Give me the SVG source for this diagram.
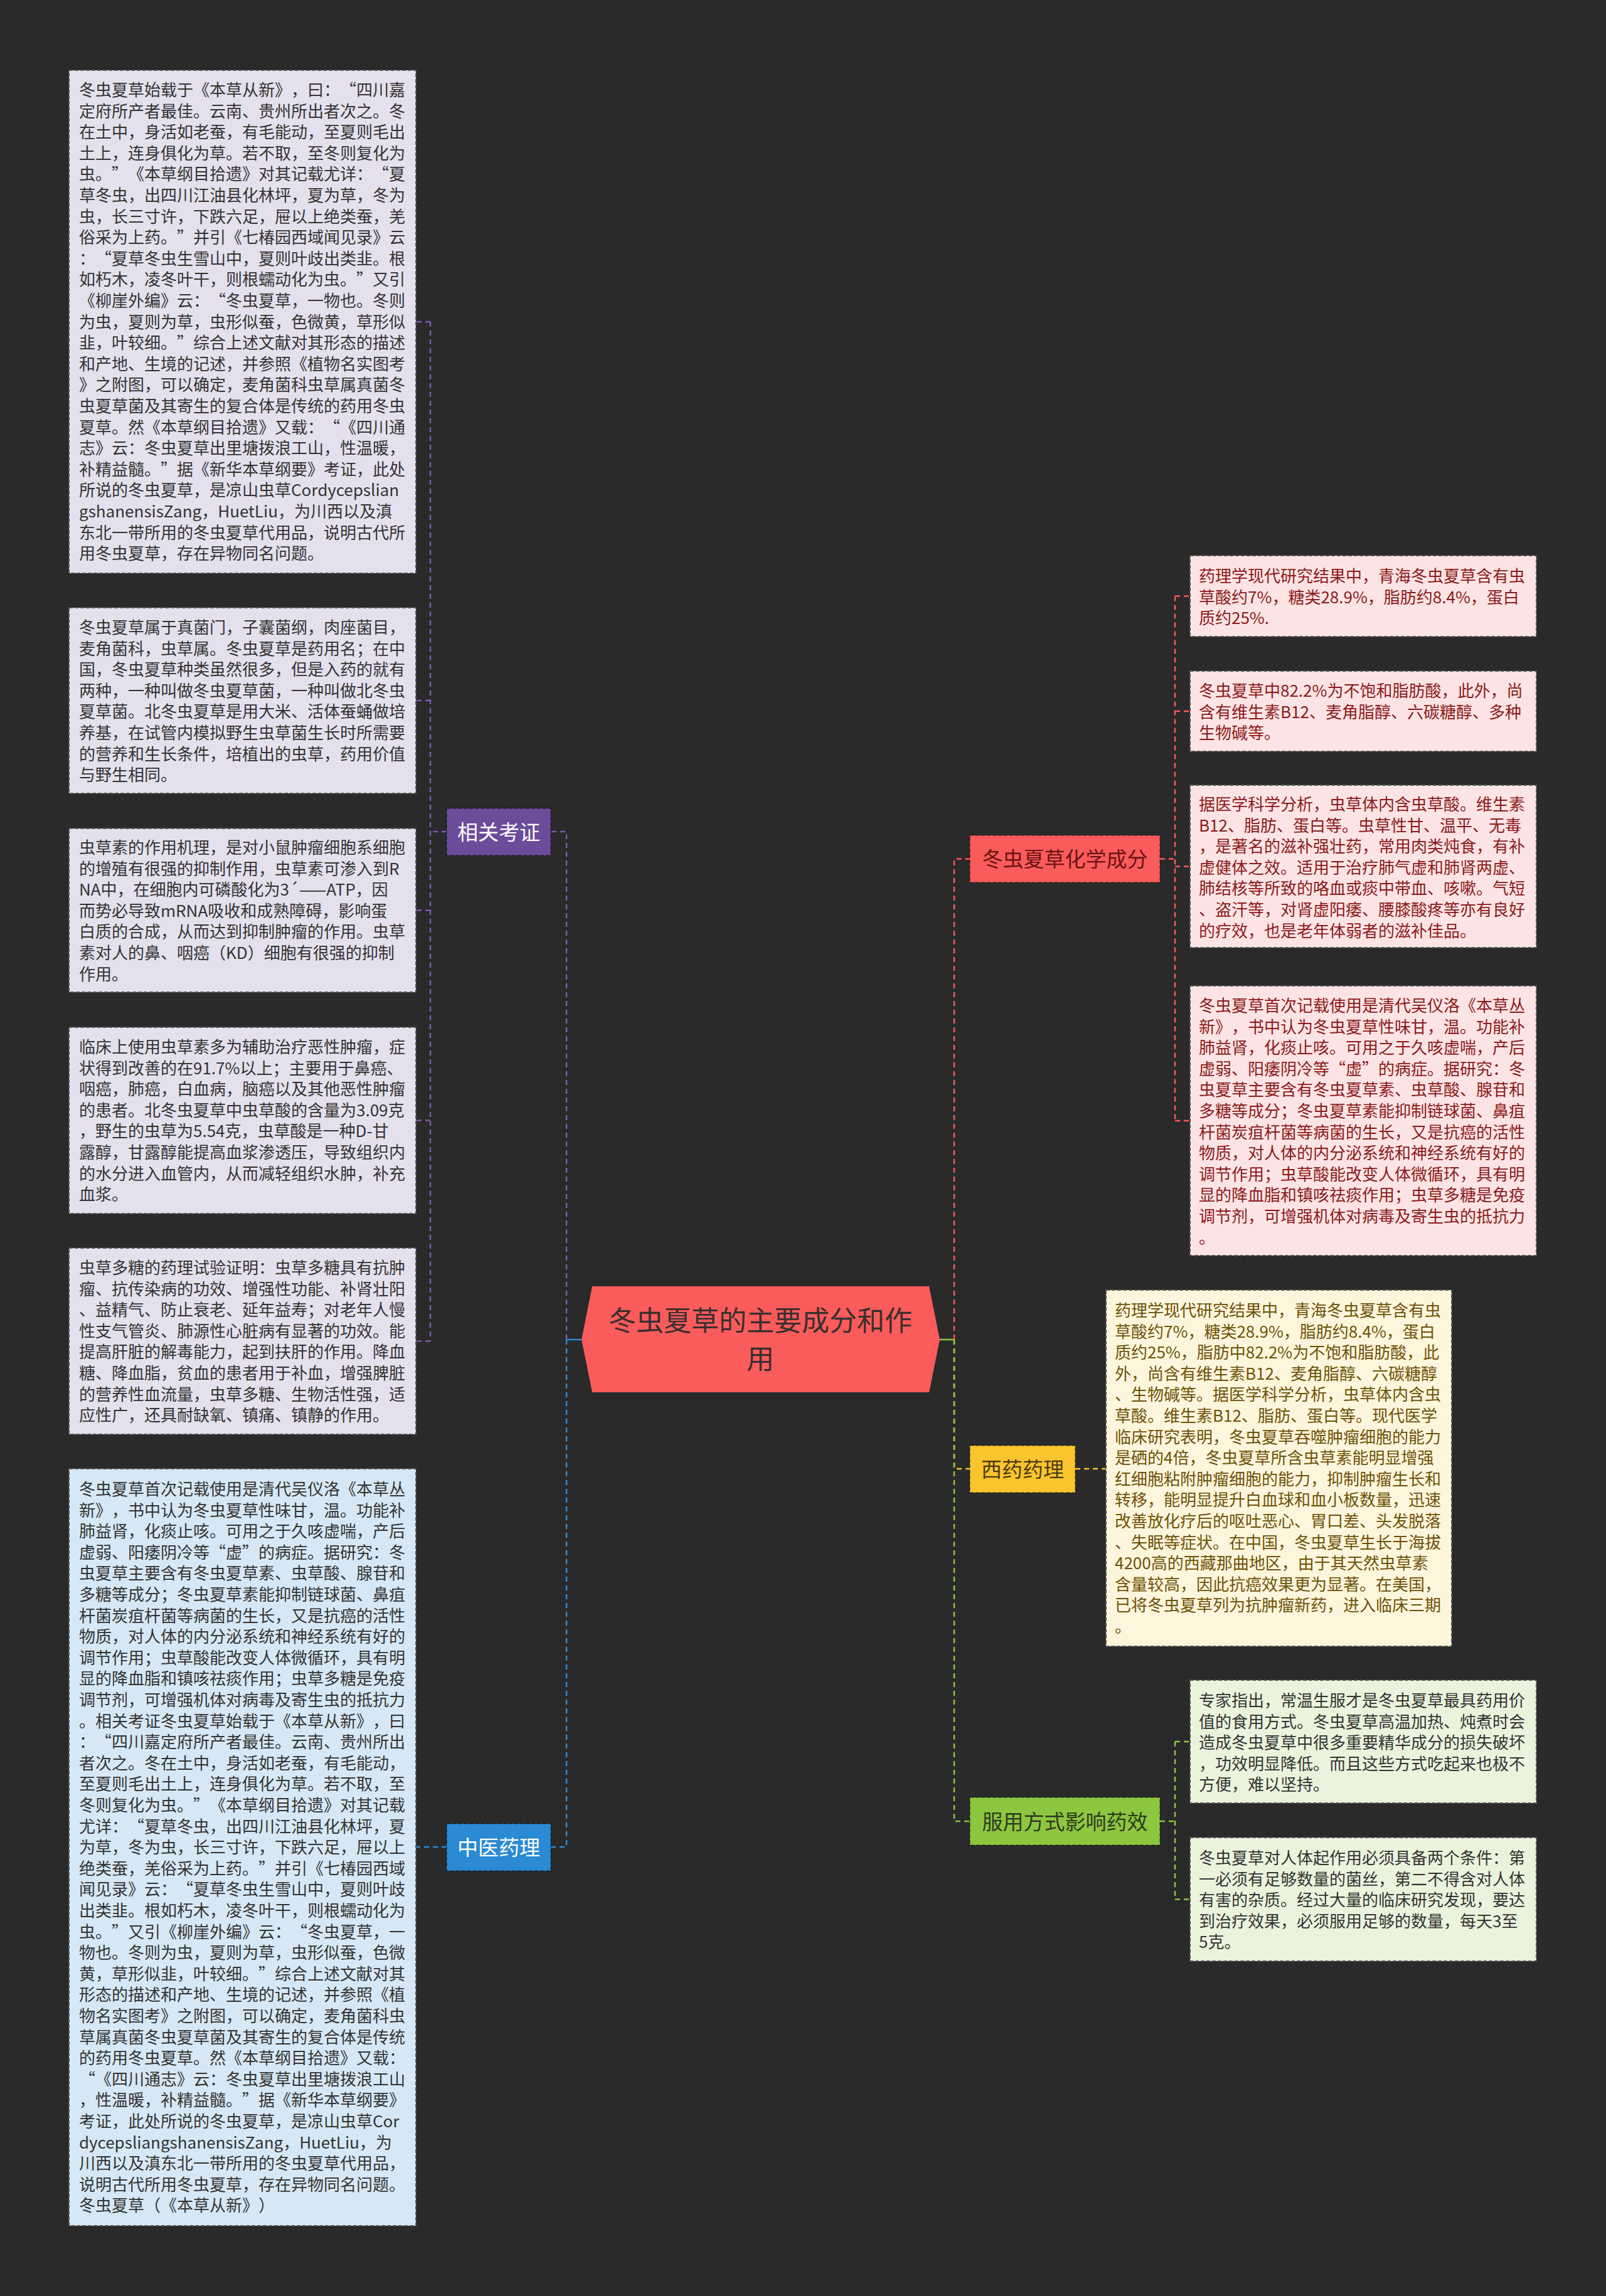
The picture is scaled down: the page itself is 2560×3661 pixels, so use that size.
<svg xmlns="http://www.w3.org/2000/svg" width="2560" height="3661" viewBox="0 0 2560 3661">
<style>
text{font-family:"Noto Sans CJK SC","Noto Sans",sans-serif;text-spacing-trim:space-all;}
.t{font-size:26px;}
.box{stroke:#555;stroke-width:2;stroke-dasharray:6 3;}
.lav{fill:#e4e0ee;}
.blu{fill:#d6e8f5;}
.pnk{fill:#fde4e4;}
.crm{fill:#fdf5dc;}
.grn{fill:#eaf3dc;}
.dk{fill:#333333;}
.rd{fill:#8b1a1a;}
.ol{fill:#6e5208;}
.lbl{stroke:rgba(0,0,0,0.35);stroke-width:2;stroke-dasharray:6 3;}
.lt{font-size:33px;text-anchor:middle;}
.c{fill:none;stroke-width:2.5;stroke-dasharray:8 6;}
.s{fill:none;stroke-width:2.5;}
</style>
<rect x="0" y="0" width="2560" height="3661" fill="#2a2a2a"/>

<g id="connectors">
<path class="s" stroke="#2a8ad4" d="M927,2136 H903"/>
<path class="s" stroke="#8dc63f" d="M1498,2136 H1521"/>
<path class="c" stroke="#7a5aa8" d="M903,2136 V1326 H878 M712,1326 H686 M686,513 V2138.5 M686,513 H663 M686,1117 H663 M686,1451.5 H663 M686,1786.5 H663 M686,2138.5 H663"/>
<path class="c" stroke="#2a8ad4" d="M903,2136 V2945 H878 M712,2945 H663"/>
<path class="c" stroke="#f95a5a" d="M1521,2136 V1369.5 H1546 M1849,1369.5 H1873 M1873,950.5 V1787 M1873,950.5 H1897 M1873,1134 H1897 M1873,1381.5 H1897 M1873,1787 H1897"/>
<path class="c" stroke="#f9c42e" d="M1521,2136 V2342 H1546 M1714,2342 H1763"/>
<path class="c" stroke="#8dc63f" d="M1521,2136 V2904 H1546 M1849,2904 H1873 M1873,2777 V3028.5 M1873,2777 H1897 M1873,3028.5 H1897"/>
</g>

<g id="center">
<polygon points="944,2051 1481,2051 1498,2136 1481,2220 944,2220 927,2136" fill="#fa5b5b"/>
<text x="1212" y="2122" font-size="44" text-anchor="middle" fill="#3a2f2f">冬虫夏草的主要成分和作</text>
<text x="1212" y="2183" font-size="44" text-anchor="middle" fill="#3a2f2f">用</text>
</g>

<g id="label-xgkz">
<rect class="lbl" x="712" y="1289" width="166" height="75" fill="#6b4c9a"/>
<text class="lt" x="795" y="1338.5" fill="#ffffff">相关考证</text>
</g>
<g id="label-zyyl">
<rect class="lbl" x="712" y="2908" width="166" height="75" fill="#2a8ad4"/>
<text class="lt" x="795" y="2957.5" fill="#ffffff">中医药理</text>
</g>
<g id="label-hxcf">
<rect class="lbl" x="1546" y="1332" width="303" height="75" fill="#fa5b5b"/>
<text class="lt" x="1697.5" y="1382" fill="#6b1414">冬虫夏草化学成分</text>
</g>
<g id="label-xyyl">
<rect class="lbl" x="1546" y="2305" width="168" height="75" fill="#f9c42e"/>
<text class="lt" x="1630" y="2354.5" fill="#4a3a10">西药药理</text>
</g>
<g id="label-fyfs">
<rect class="lbl" x="1546" y="2866" width="303" height="76" fill="#8dc63f"/>
<text class="lt" x="1697.5" y="2916.5" fill="#2e3a1e">服用方式影响药效</text>
</g>

<g id="box-l1">
<rect class="box lav" x="110" y="112" width="553" height="802"/>
<text class="t dk" x="126" y="153">
<tspan x="126">冬虫夏草始载于《本草从新》，曰：“四川嘉</tspan>
<tspan x="126" dy="33.6">定府所产者最佳。云南、贵州所出者次之。冬</tspan>
<tspan x="126" dy="33.6">在土中，身活如老蚕，有毛能动，至夏则毛出</tspan>
<tspan x="126" dy="33.6">土上，连身俱化为草。若不取，至冬则复化为</tspan>
<tspan x="126" dy="33.6">虫。”《本草纲目拾遗》对其记载尤详：“夏</tspan>
<tspan x="126" dy="33.6">草冬虫，出四川江油县化林坪，夏为草，冬为</tspan>
<tspan x="126" dy="33.6">虫，长三寸许，下跌六足，屉以上绝类蚕，羌</tspan>
<tspan x="126" dy="33.6">俗采为上药。”并引《七椿园西域闻见录》云</tspan>
<tspan x="126" dy="33.6">：“夏草冬虫生雪山中，夏则叶歧出类韭。根</tspan>
<tspan x="126" dy="33.6">如朽木，凌冬叶干，则根蠕动化为虫。”又引</tspan>
<tspan x="126" dy="33.6">《柳崖外编》云：“冬虫夏草，一物也。冬则</tspan>
<tspan x="126" dy="33.6">为虫，夏则为草，虫形似蚕，色微黄，草形似</tspan>
<tspan x="126" dy="33.6">韭，叶较细。”综合上述文献对其形态的描述</tspan>
<tspan x="126" dy="33.6">和产地、生境的记述，并参照《植物名实图考</tspan>
<tspan x="126" dy="33.6">》之附图，可以确定，麦角菌科虫草属真菌冬</tspan>
<tspan x="126" dy="33.6">虫夏草菌及其寄生的复合体是传统的药用冬虫</tspan>
<tspan x="126" dy="33.6">夏草。然《本草纲目拾遗》又载：“《四川通</tspan>
<tspan x="126" dy="33.6">志》云：冬虫夏草出里塘拨浪工山，性温暖，</tspan>
<tspan x="126" dy="33.6">补精益髓。”据《新华本草纲要》考证，此处</tspan>
<tspan x="126" dy="33.6">所说的冬虫夏草，是凉山虫草Cordycepslian</tspan>
<tspan x="126" dy="33.6">gshanensisZang，HuetLiu，为川西以及滇</tspan>
<tspan x="126" dy="33.6">东北一带所用的冬虫夏草代用品，说明古代所</tspan>
<tspan x="126" dy="33.6">用冬虫夏草，存在异物同名问题。</tspan>
</text>
</g>

<g id="box-l2">
<rect class="box lav" x="110" y="969" width="553" height="296"/>
<text class="t dk" x="126" y="1010">
<tspan x="126">冬虫夏草属于真菌门，子囊菌纲，肉座菌目，</tspan>
<tspan x="126" dy="33.6">麦角菌科，虫草属。冬虫夏草是药用名；在中</tspan>
<tspan x="126" dy="33.6">国，冬虫夏草种类虽然很多，但是入药的就有</tspan>
<tspan x="126" dy="33.6">两种，一种叫做冬虫夏草菌，一种叫做北冬虫</tspan>
<tspan x="126" dy="33.6">夏草菌。北冬虫夏草是用大米、活体蚕蛹做培</tspan>
<tspan x="126" dy="33.6">养基，在试管内模拟野生虫草菌生长时所需要</tspan>
<tspan x="126" dy="33.6">的营养和生长条件，培植出的虫草，药用价值</tspan>
<tspan x="126" dy="33.6">与野生相同。</tspan>
</text>
</g>

<g id="box-l3">
<rect class="box lav" x="110" y="1321" width="553" height="261"/>
<text class="t dk" x="126" y="1361">
<tspan x="126">虫草素的作用机理，是对小鼠肿瘤细胞系细胞</tspan>
<tspan x="126" dy="33.6">的增殖有很强的抑制作用，虫草素可渗入到R</tspan>
<tspan x="126" dy="33.6">NA中，在细胞内可磷酸化为3´——ATP，因</tspan>
<tspan x="126" dy="33.6">而势必导致mRNA吸收和成熟障碍，影响蛋</tspan>
<tspan x="126" dy="33.6">白质的合成，从而达到抑制肿瘤的作用。虫草</tspan>
<tspan x="126" dy="33.6">素对人的鼻、咽癌（KD）细胞有很强的抑制</tspan>
<tspan x="126" dy="33.6">作用。</tspan>
</text>
</g>

<g id="box-l4">
<rect class="box lav" x="110" y="1638" width="553" height="297"/>
<text class="t dk" x="126" y="1679">
<tspan x="126">临床上使用虫草素多为辅助治疗恶性肿瘤，症</tspan>
<tspan x="126" dy="33.6">状得到改善的在91.7%以上；主要用于鼻癌、</tspan>
<tspan x="126" dy="33.6">咽癌，肺癌，白血病，脑癌以及其他恶性肿瘤</tspan>
<tspan x="126" dy="33.6">的患者。北冬虫夏草中虫草酸的含量为3.09克</tspan>
<tspan x="126" dy="33.6">，野生的虫草为5.54克，虫草酸是一种D-甘</tspan>
<tspan x="126" dy="33.6">露醇，甘露醇能提高血浆渗透压，导致组织内</tspan>
<tspan x="126" dy="33.6">的水分进入血管内，从而减轻组织水肿，补充</tspan>
<tspan x="126" dy="33.6">血浆。</tspan>
</text>
</g>

<g id="box-l5">
<rect class="box lav" x="110" y="1990" width="553" height="297"/>
<text class="t dk" x="126" y="2031">
<tspan x="126">虫草多糖的药理试验证明：虫草多糖具有抗肿</tspan>
<tspan x="126" dy="33.6">瘤、抗传染病的功效、增强性功能、补肾壮阳</tspan>
<tspan x="126" dy="33.6">、益精气、防止衰老、延年益寿；对老年人慢</tspan>
<tspan x="126" dy="33.6">性支气管炎、肺源性心脏病有显著的功效。能</tspan>
<tspan x="126" dy="33.6">提高肝脏的解毒能力，起到扶肝的作用。降血</tspan>
<tspan x="126" dy="33.6">糖、降血脂，贫血的患者用于补血，增强脾脏</tspan>
<tspan x="126" dy="33.6">的营养性血流量，虫草多糖、生物活性强，适</tspan>
<tspan x="126" dy="33.6">应性广，还具耐缺氧、镇痛、镇静的作用。</tspan>
</text>
</g>

<g id="box-l6">
<rect class="box blu" x="110" y="2342" width="553" height="1207"/>
<text class="t dk" x="126" y="2384">
<tspan x="126">冬虫夏草首次记载使用是清代吴仪洛《本草丛</tspan>
<tspan x="126" dy="33.6">新》，书中认为冬虫夏草性味甘，温。功能补</tspan>
<tspan x="126" dy="33.6">肺益肾，化痰止咳。可用之于久咳虚喘，产后</tspan>
<tspan x="126" dy="33.6">虚弱、阳痿阴冷等“虚”的病症。据研究：冬</tspan>
<tspan x="126" dy="33.6">虫夏草主要含有冬虫夏草素、虫草酸、腺苷和</tspan>
<tspan x="126" dy="33.6">多糖等成分；冬虫夏草素能抑制链球菌、鼻疽</tspan>
<tspan x="126" dy="33.6">杆菌炭疽杆菌等病菌的生长，又是抗癌的活性</tspan>
<tspan x="126" dy="33.6">物质，对人体的内分泌系统和神经系统有好的</tspan>
<tspan x="126" dy="33.6">调节作用；虫草酸能改变人体微循环，具有明</tspan>
<tspan x="126" dy="33.6">显的降血脂和镇咳祛痰作用；虫草多糖是免疫</tspan>
<tspan x="126" dy="33.6">调节剂，可增强机体对病毒及寄生虫的抵抗力</tspan>
<tspan x="126" dy="33.6">。相关考证冬虫夏草始载于《本草从新》，曰</tspan>
<tspan x="126" dy="33.6">：“四川嘉定府所产者最佳。云南、贵州所出</tspan>
<tspan x="126" dy="33.6">者次之。冬在土中，身活如老蚕，有毛能动，</tspan>
<tspan x="126" dy="33.6">至夏则毛出土上，连身俱化为草。若不取，至</tspan>
<tspan x="126" dy="33.6">冬则复化为虫。”《本草纲目拾遗》对其记载</tspan>
<tspan x="126" dy="33.6">尤详：“夏草冬虫，出四川江油县化林坪，夏</tspan>
<tspan x="126" dy="33.6">为草，冬为虫，长三寸许，下跌六足，屉以上</tspan>
<tspan x="126" dy="33.6">绝类蚕，羌俗采为上药。”并引《七椿园西域</tspan>
<tspan x="126" dy="33.6">闻见录》云：“夏草冬虫生雪山中，夏则叶歧</tspan>
<tspan x="126" dy="33.6">出类韭。根如朽木，凌冬叶干，则根蠕动化为</tspan>
<tspan x="126" dy="33.6">虫。”又引《柳崖外编》云：“冬虫夏草，一</tspan>
<tspan x="126" dy="33.6">物也。冬则为虫，夏则为草，虫形似蚕，色微</tspan>
<tspan x="126" dy="33.6">黄，草形似韭，叶较细。”综合上述文献对其</tspan>
<tspan x="126" dy="33.6">形态的描述和产地、生境的记述，并参照《植</tspan>
<tspan x="126" dy="33.6">物名实图考》之附图，可以确定，麦角菌科虫</tspan>
<tspan x="126" dy="33.6">草属真菌冬虫夏草菌及其寄生的复合体是传统</tspan>
<tspan x="126" dy="33.6">的药用冬虫夏草。然《本草纲目拾遗》又载：</tspan>
<tspan x="126" dy="33.6">“《四川通志》云：冬虫夏草出里塘拨浪工山</tspan>
<tspan x="126" dy="33.6">，性温暖，补精益髓。”据《新华本草纲要》</tspan>
<tspan x="126" dy="33.6">考证，此处所说的冬虫夏草，是凉山虫草Cor</tspan>
<tspan x="126" dy="33.6">dycepsliangshanensisZang，HuetLiu，为</tspan>
<tspan x="126" dy="33.6">川西以及滇东北一带所用的冬虫夏草代用品，</tspan>
<tspan x="126" dy="33.6">说明古代所用冬虫夏草，存在异物同名问题。</tspan>
<tspan x="126" dy="33.6">冬虫夏草（《本草从新》）</tspan>
</text>
</g>

<g id="box-r1">
<rect class="box pnk" x="1897" y="886" width="552" height="129"/>
<text class="t rd" x="1911" y="928">
<tspan x="1911">药理学现代研究结果中，青海冬虫夏草含有虫</tspan>
<tspan x="1911" dy="33.6">草酸约7%，糖类28.9%，脂肪约8.4%，蛋白</tspan>
<tspan x="1911" dy="33.6">质约25%.</tspan>
</text>
</g>

<g id="box-r2">
<rect class="box pnk" x="1897" y="1070" width="552" height="128"/>
<text class="t rd" x="1911" y="1111">
<tspan x="1911">冬虫夏草中82.2%为不饱和脂肪酸，此外，尚</tspan>
<tspan x="1911" dy="33.6">含有维生素B12、麦角脂醇、六碳糖醇、多种</tspan>
<tspan x="1911" dy="33.6">生物碱等。</tspan>
</text>
</g>

<g id="box-r3">
<rect class="box pnk" x="1897" y="1252" width="552" height="259"/>
<text class="t rd" x="1911" y="1292">
<tspan x="1911">据医学科学分析，虫草体内含虫草酸。维生素</tspan>
<tspan x="1911" dy="33.6">B12、脂肪、蛋白等。虫草性甘、温平、无毒</tspan>
<tspan x="1911" dy="33.6">，是著名的滋补强壮药，常用肉类炖食，有补</tspan>
<tspan x="1911" dy="33.6">虚健体之效。适用于治疗肺气虚和肺肾两虚、</tspan>
<tspan x="1911" dy="33.6">肺结核等所致的咯血或痰中带血、咳嗽。气短</tspan>
<tspan x="1911" dy="33.6">、盗汗等，对肾虚阳痿、腰膝酸疼等亦有良好</tspan>
<tspan x="1911" dy="33.6">的疗效，也是老年体弱者的滋补佳品。</tspan>
</text>
</g>

<g id="box-r4">
<rect class="box pnk" x="1897" y="1572" width="552" height="430"/>
<text class="t rd" x="1911" y="1613">
<tspan x="1911">冬虫夏草首次记载使用是清代吴仪洛《本草丛</tspan>
<tspan x="1911" dy="33.6">新》，书中认为冬虫夏草性味甘，温。功能补</tspan>
<tspan x="1911" dy="33.6">肺益肾，化痰止咳。可用之于久咳虚喘，产后</tspan>
<tspan x="1911" dy="33.6">虚弱、阳痿阴冷等“虚”的病症。据研究：冬</tspan>
<tspan x="1911" dy="33.6">虫夏草主要含有冬虫夏草素、虫草酸、腺苷和</tspan>
<tspan x="1911" dy="33.6">多糖等成分；冬虫夏草素能抑制链球菌、鼻疽</tspan>
<tspan x="1911" dy="33.6">杆菌炭疽杆菌等病菌的生长，又是抗癌的活性</tspan>
<tspan x="1911" dy="33.6">物质，对人体的内分泌系统和神经系统有好的</tspan>
<tspan x="1911" dy="33.6">调节作用；虫草酸能改变人体微循环，具有明</tspan>
<tspan x="1911" dy="33.6">显的降血脂和镇咳祛痰作用；虫草多糖是免疫</tspan>
<tspan x="1911" dy="33.6">调节剂，可增强机体对病毒及寄生虫的抵抗力</tspan>
<tspan x="1911" dy="33.6">。</tspan>
</text>
</g>

<g id="box-y1">
<rect class="box crm" x="1763" y="2057" width="551" height="568"/>
<text class="t ol" x="1777" y="2099">
<tspan x="1777">药理学现代研究结果中，青海冬虫夏草含有虫</tspan>
<tspan x="1777" dy="33.6">草酸约7%，糖类28.9%，脂肪约8.4%，蛋白</tspan>
<tspan x="1777" dy="33.6">质约25%，脂肪中82.2%为不饱和脂肪酸，此</tspan>
<tspan x="1777" dy="33.6">外，尚含有维生素B12、麦角脂醇、六碳糖醇</tspan>
<tspan x="1777" dy="33.6">、生物碱等。据医学科学分析，虫草体内含虫</tspan>
<tspan x="1777" dy="33.6">草酸。维生素B12、脂肪、蛋白等。现代医学</tspan>
<tspan x="1777" dy="33.6">临床研究表明，冬虫夏草吞噬肿瘤细胞的能力</tspan>
<tspan x="1777" dy="33.6">是硒的4倍，冬虫夏草所含虫草素能明显增强</tspan>
<tspan x="1777" dy="33.6">红细胞粘附肿瘤细胞的能力，抑制肿瘤生长和</tspan>
<tspan x="1777" dy="33.6">转移，能明显提升白血球和血小板数量，迅速</tspan>
<tspan x="1777" dy="33.6">改善放化疗后的呕吐恶心、胃口差、头发脱落</tspan>
<tspan x="1777" dy="33.6">、失眠等症状。在中国，冬虫夏草生长于海拔</tspan>
<tspan x="1777" dy="33.6">4200高的西藏那曲地区，由于其天然虫草素</tspan>
<tspan x="1777" dy="33.6">含量较高，因此抗癌效果更为显著。在美国，</tspan>
<tspan x="1777" dy="33.6">已将冬虫夏草列为抗肿瘤新药，进入临床三期</tspan>
<tspan x="1777" dy="33.6">。</tspan>
</text>
</g>

<g id="box-g1">
<rect class="box grn" x="1897" y="2679" width="552" height="196"/>
<text class="t dk" x="1911" y="2721">
<tspan x="1911">专家指出，常温生服才是冬虫夏草最具药用价</tspan>
<tspan x="1911" dy="33.6">值的食用方式。冬虫夏草高温加热、炖煮时会</tspan>
<tspan x="1911" dy="33.6">造成冬虫夏草中很多重要精华成分的损失破坏</tspan>
<tspan x="1911" dy="33.6">，功效明显降低。而且这些方式吃起来也极不</tspan>
<tspan x="1911" dy="33.6">方便，难以坚持。</tspan>
</text>
</g>

<g id="box-g2">
<rect class="box grn" x="1897" y="2930" width="552" height="197"/>
<text class="t dk" x="1911" y="2972">
<tspan x="1911">冬虫夏草对人体起作用必须具备两个条件：第</tspan>
<tspan x="1911" dy="33.6">一必须有足够数量的菌丝，第二不得含对人体</tspan>
<tspan x="1911" dy="33.6">有害的杂质。经过大量的临床研究发现，要达</tspan>
<tspan x="1911" dy="33.6">到治疗效果，必须服用足够的数量，每天3至</tspan>
<tspan x="1911" dy="33.6">5克。</tspan>
</text>
</g>
</svg>
